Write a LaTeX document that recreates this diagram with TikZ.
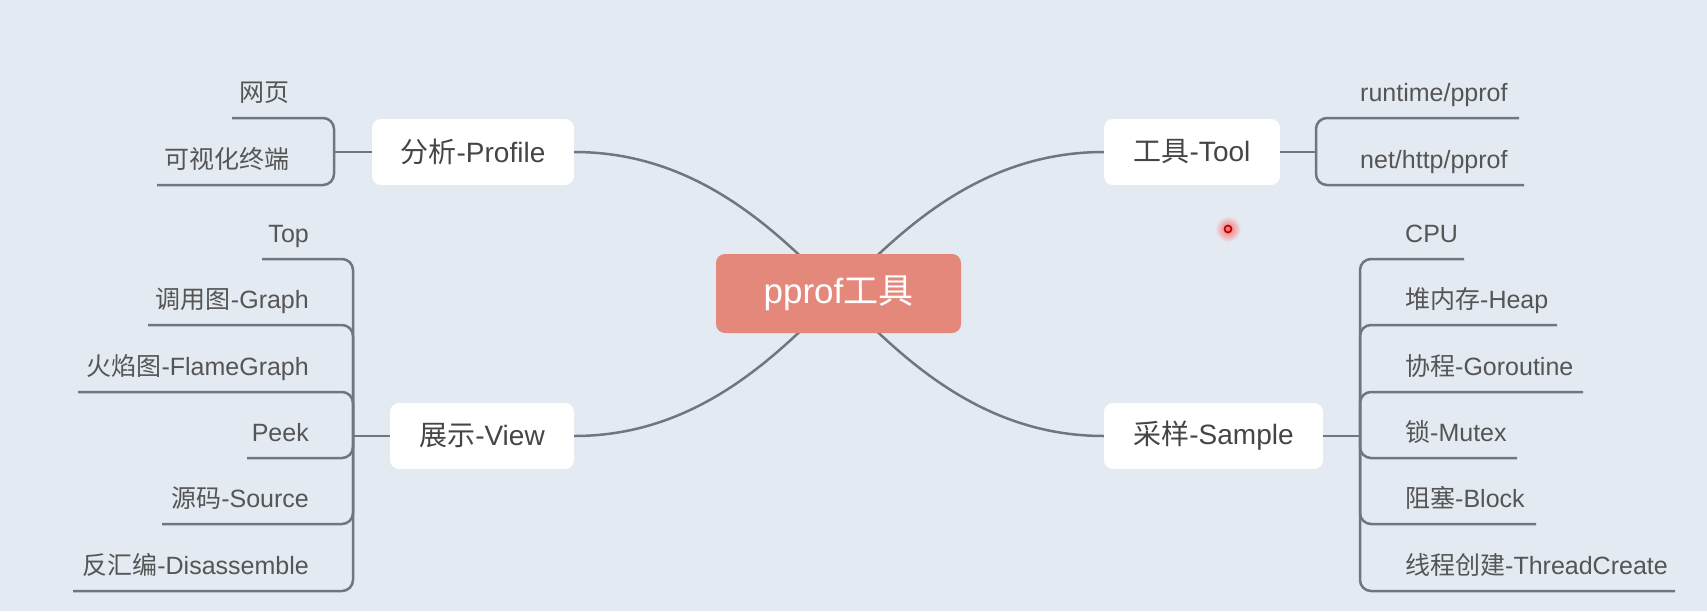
\documentclass[tikz,border=0pt]{standalone}
\usepackage{fontspec}
\setmainfont{Liberation Sans}
\newfontfamily\cjk{Noto Sans CJK SC}
\definecolor{bgc}{HTML}{E4EAF2}
\definecolor{linec}{HTML}{6E767F}
\definecolor{hubc}{HTML}{E5887C}
\definecolor{boxtext}{HTML}{454545}
\definecolor{leaftext}{HTML}{555555}

\begin{document}
\begin{tikzpicture}[x=1pt,y=-1pt,
  link/.style={draw=linec,line width=2.5pt,rounded corners=11pt},
  hubbox/.style={fill=hubc,rounded corners=9pt,minimum width=245pt,minimum height=79pt,
    text=white,font=\fontsize{35}{40}\selectfont},
  topicbox/.style={fill=white,rounded corners=9pt,minimum height=66pt,inner sep=0pt,
    text=boxtext,font=\fontsize{28}{32}\selectfont},
  leafL/.style={anchor=base east,text=leaftext,font=\fontsize{25}{30}\selectfont,inner sep=0pt},
  leafR/.style={anchor=base west,text=leaftext,font=\fontsize{25}{30}\selectfont,inner sep=0pt},
]
% canvas
\useasboundingbox (0,0) rectangle (1707,611);
\fill[bgc] (0,0) rectangle (1707,611);

% main topics
\node[topicbox,minimum width=202pt] (profile) at (473,152) {{\cjk 分析}-Profile};
\node[topicbox,minimum width=176pt] (tool)    at (1192,152) {{\cjk 工具}-Tool};
\node[topicbox,minimum width=184pt] (view)    at (482,436) {{\cjk 展示}-View};
\node[topicbox,minimum width=219pt] (sample)  at (1213.5,436) {{\cjk 采样}-Sample};

% curved links into the root
\coordinate (hubc) at (838.5,293.5);
\draw[link] (profile.east) .. controls (700,152) and (780,235) .. (hubc);
\draw[link] (tool.west)    .. controls (977,152) and (897,235) .. (hubc);
\draw[link] (view.east)    .. controls (700,436) and (780,352) .. (hubc);
\draw[link] (sample.west)  .. controls (977,436) and (897,352) .. (hubc);

% root
\node[hubbox] (hub) at (hubc) {pprof{\cjk 工具}};

% ---- 分析-Profile branch
\coordinate (pb) at (334,152);
\draw[link] (profile.west) -- (pb);
\node[leafL] (web)  at (290,101) {\cjk 网页};
\node[leafL] (term) at (290,168) {\cjk 可视化终端};
\coordinate (webu)  at (232,118);
\coordinate (termu) at (157,185);
\draw[link] (webu)  -| (pb);
\draw[link] (termu) -| (pb);

% ---- 展示-View branch
\coordinate (vb) at (353,436);
\draw[link] (view.west) -- (vb);
\node[leafL] (vtop)   at (309,242) {Top};
\node[leafL] (vgraph) at (309,308) {{\cjk 调用图}-Graph};
\node[leafL] (vflame) at (309,375) {{\cjk 火焰图}-FlameGraph};
\node[leafL] (vpeek)  at (309,441) {Peek};
\node[leafL] (vsrc)   at (309,507) {{\cjk 源码}-Source};
\node[leafL] (vdis)   at (309,574) {{\cjk 反汇编}-Disassemble};
\coordinate (vtopu)   at (262,259);
\coordinate (vgraphu) at (148,325);
\coordinate (vflameu) at (78,392);
\coordinate (vpeeku)  at (247,458);
\coordinate (vsrcu)   at (162,524);
\coordinate (vdisu)   at (73,591);
\foreach \u in {vtopu,vgraphu,vflameu,vpeeku,vsrcu,vdisu}
  \draw[link] (\u) -| (vb);

% ---- 工具-Tool branch
\coordinate (tb) at (1316,152);
\draw[link] (tool.east) -- (tb);
\node[leafR] (rt)  at (1360,101) {runtime/pprof};
\node[leafR] (nh)  at (1360,168) {net/http/pprof};
\coordinate (rtu) at (1519,118);
\coordinate (nhu) at (1524,185);
\draw[link] (rtu) -| (tb);
\draw[link] (nhu) -| (tb);

% ---- 采样-Sample branch
\coordinate (sb) at (1360,436);
\draw[link] (sample.east) -- (sb);
\node[leafR] (scpu)  at (1405,242) {CPU};
\node[leafR] (sheap) at (1405,308) {{\cjk 堆内存}-Heap};
\node[leafR] (sgor)  at (1405,375) {{\cjk 协程}-Goroutine};
\node[leafR] (smut)  at (1405,441) {{\cjk 锁}-Mutex};
\node[leafR] (sblk)  at (1405,507) {{\cjk 阻塞}-Block};
\node[leafR] (sthr)  at (1405,574) {{\cjk 线程创建}-ThreadCreate};
\coordinate (scpuu)  at (1464,259);
\coordinate (sheapu) at (1557,325);
\coordinate (sgoru)  at (1583,392);
\coordinate (smutu)  at (1517,458);
\coordinate (sblku)  at (1536,524);
\coordinate (sthru)  at (1675,591);
\foreach \u in {scpuu,sheapu,sgoru,smutu,sblku,sthru}
  \draw[link] (\u) -| (sb);

% pointer marker
\shade[inner color=red!60,outer color=bgc] (1228,229) circle (13pt);
\draw[red!70!black,line width=1.6pt] (1228,229) circle (3.5pt);
\end{tikzpicture}
\end{document}
